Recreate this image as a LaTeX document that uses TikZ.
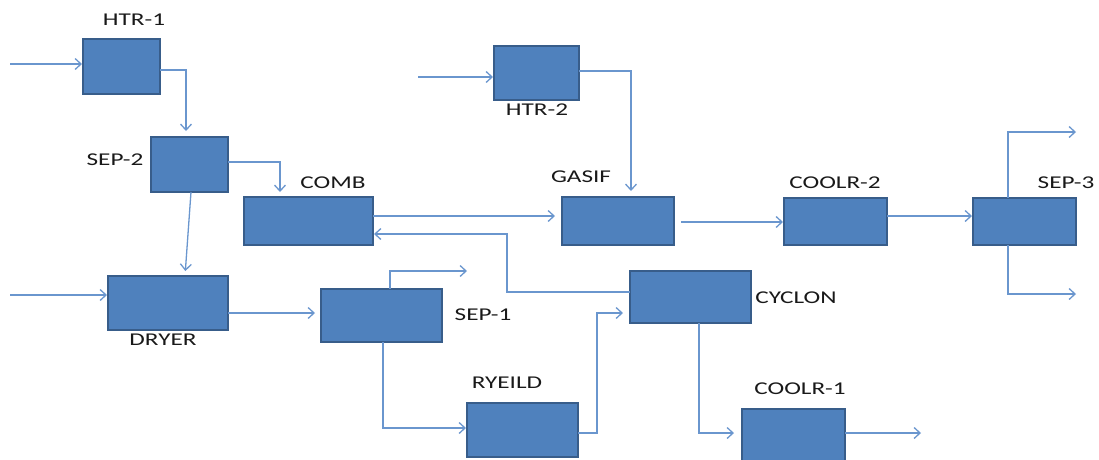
\documentclass[tikz,border=0pt]{standalone}
\usepackage{fontspec}
\setmainfont{Carlito}[FakeStretch=1.4]
\usetikzlibrary{arrows.meta}
\definecolor{boxfill}{HTML}{4F81BD}
\definecolor{boxedge}{HTML}{385D8A}
\definecolor{linec}{HTML}{6A96CE}
\tikzset{
  unit/.style={draw=boxedge, fill=boxfill, line width=2.6pt, rectangle, inner sep=0pt, outer sep=0pt},
  flow/.style={draw=linec, line width=1.3pt, -{Straight Barb[length=6pt,width=11pt,line width=1.3pt]}},
  lab/.style={font=\fontsize{18}{18}\selectfont, text=black!90, inner sep=0pt}
}
\begin{document}
\begin{tikzpicture}[x=1pt,y=-1pt]
\useasboundingbox (0,0) rectangle (1099,459);
\clip (0,0) rectangle (1099,459);
% units
\node[unit, minimum width=77pt, minimum height=55pt] (htr1) at (121.5,66.5) {};
\node[unit, minimum width=77pt, minimum height=55pt] (sep2) at (189.5,164.5) {};
\node[unit, minimum width=129pt, minimum height=48pt] (comb) at (308.5,221) {};
\node[unit, minimum width=85pt, minimum height=54pt] (htr2) at (536.5,73) {};
\node[unit, minimum width=112pt, minimum height=48pt] (gasif) at (618,221) {};
\node[unit, minimum width=103pt, minimum height=47pt] (coolr2) at (835.5,221.5) {};
\node[unit, minimum width=103pt, minimum height=47pt] (sep3) at (1024.5,221.5) {};
\node[unit, minimum width=120pt, minimum height=54pt] (dryer) at (168,303) {};
\node[unit, minimum width=121pt, minimum height=53pt] (sep1) at (381.5,315.5) {};
\node[unit, minimum width=111pt, minimum height=54pt] (ryeild) at (522.5,430) {};
\node[unit, minimum width=121pt, minimum height=52pt] (cyclon) at (690.5,297) {};
\node[unit, minimum width=103pt, minimum height=54pt] (coolr1) at (793.5,436) {};
% labels
\node[lab] (lhtr1) at (134,20) {HTR-1};
\node[lab] (lsep2) at (115,160) {SEP-2};
\node[lab] (lcomb) at (333,183) {COMB};
\node[lab] (lhtr2) at (537,110) {HTR-2};
\node[lab] (lgasif) at (581,177) {GASIF};
\node[lab] (lcoolr2) at (835,183) {COOLR-2};
\node[lab] (lsep3) at (1066,183) {SEP-3};
\node[lab] (lcyclon) at (796,298) {CYCLON};
\node[lab] (ldryer) at (163,340) {DRYER};
\node[lab] (lsep1) at (483,315) {SEP-1};
\node[lab] (lryeild) at (507,383) {RYEILD};
\node[lab] (lcoolr1) at (800,389) {COOLR-1};
% free ends
\coordinate (in1) at (10,64);
\coordinate (in2) at (10,295);
\coordinate (in3) at (418,77);
\coordinate (out1) at (467,271);
\coordinate (out2) at (921,433);
\coordinate (out3) at (1076,132);
\coordinate (out4) at (1076,294);
\coordinate (b1) at (597,433);
\coordinate (b2) at (507,292);
% connectors
\draw[flow, shorten >=1pt] (in1) -- (htr1.west |- in1);
\draw[flow, shorten >=6pt] (htr1.east |- 0,70) -| (sep2.north -| 186,0);
\draw[flow, shorten >=5pt] (sep2.east |- 0,162) -| (comb.north -| 280,0);
\draw[flow, shorten >=5pt] (sep2.south -| 191,0) -- (dryer.north -| 185,0);
\draw[flow, shorten >=1pt] (in2) -- (dryer.west |- in2);
\draw[flow, shorten >=6pt] (dryer.east |- 0,313) -- (sep1.west |- 0,313);
\draw[flow] (sep1.north -| 390,0) |- (out1);
\draw[flow, shorten >=1pt] (sep1.south -| 383,0) |- (ryeild.west |- 0,428);
\draw[flow, shorten >=7pt] (ryeild.east |- 0,433) -- (b1) |- (cyclon.west |- 0,313);
\draw[flow, shorten >=8pt] (cyclon.south -| 699,0) |- (coolr1.west |- 0,433);
\draw[flow] (coolr1.east |- 0,433) -- (out2);
\draw[flow, shorten >=1pt] (cyclon.west |- 0,292) -- (b2) |- (comb.east |- 0,234);
\draw[flow, shorten >=7pt] (comb.east |- 0,216) -- (gasif.west |- 0,216);
\draw[flow, shorten >=1pt] (in3) -- (htr2.west |- in3);
\draw[flow, shorten >=6pt] (htr2.east |- 0,71) -| (gasif.north -| 631,0);
\draw[flow, shorten <=7pt, shorten >=1pt] (gasif.east |- 0,222) -- (coolr2.west |- 0,222);
\draw[flow, shorten >=1pt] (coolr2.east |- 0,216) -- (sep3.west |- 0,216);
\draw[flow] (sep3.north -| 1008,0) |- (out3);
\draw[flow] (sep3.south -| 1008,0) |- (out4);
\end{tikzpicture}
\end{document}
